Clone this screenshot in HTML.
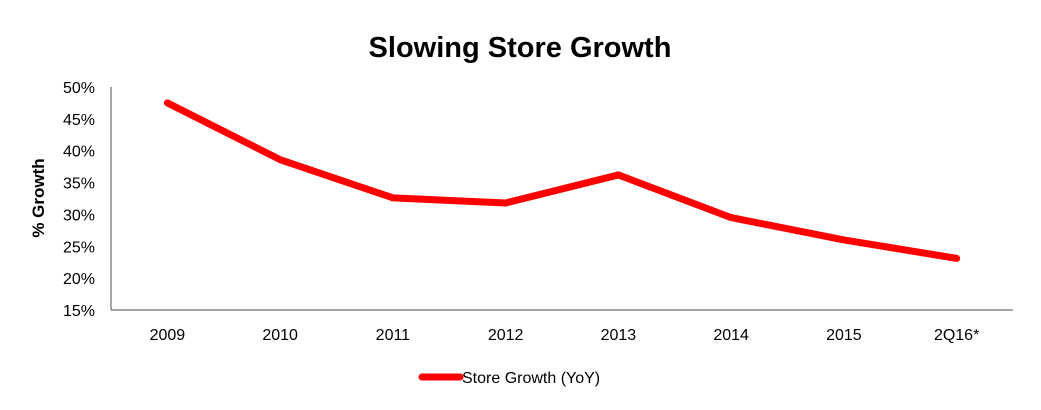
<!DOCTYPE html>
<html><head><meta charset="utf-8"><style>
body{margin:0;background:#fff;}
svg{display:block;font-family:"Liberation Sans",Arial,sans-serif;}
</style></head><body>
<svg id="chart" width="1041" height="410" viewBox="0 0 1041 410">
<text x="520" y="57" text-anchor="middle" font-size="29" font-weight="bold" fill="#000">Slowing Store Growth</text>
<text transform="translate(44,198) rotate(-90)" text-anchor="middle" font-size="17" font-weight="bold" fill="#000">% Growth</text>
<g id="yticks"></g><g id="xticks"></g>
<line x1="111" y1="87" x2="111" y2="310" stroke="#888" stroke-width="1.5"/>
<line x1="111" y1="310" x2="1013" y2="310" stroke="#888" stroke-width="1.5"/>
<path id="series" fill="none" stroke="#ff0000" stroke-width="7" stroke-linecap="round" stroke-linejoin="round"/>
<g>
<line x1="422" y1="377" x2="460" y2="377" stroke="#ff0000" stroke-width="7" stroke-linecap="round"/>
<text x="462" y="383" font-size="16" fill="#000">Store Growth (YoY)</text>
</g>
</svg>
<script>
const categories = ["2009","2010","2011","2012","2013","2014","2015","2Q16*"];
const storeGrowth = [47.5,38.6,32.6,31.8,36.2,29.5,26.0,23.1];
const yTickValues = [15,20,25,30,35,40,45,50];
const yMin=15,yMax=50,plotTop=87,plotBottom=310,plotLeft=111,plotRight=1013;
const yScale=v=>plotBottom-(v-yMin)/(yMax-yMin)*(plotBottom-plotTop);
const bandW=(plotRight-plotLeft)/categories.length;
const xScale=i=>plotLeft+bandW*(i+0.5);
const NS="http://www.w3.org/2000/svg";
const yt=document.getElementById('yticks');
yTickValues.forEach(v=>{const t=document.createElementNS(NS,'text');


t.setAttribute('x',95);t.setAttribute('y',yScale(v)+6);t.setAttribute('text-anchor','end');t.setAttribute('font-size','16');t.textContent=v+'%';yt.appendChild(t);});
const xt=document.getElementById('xticks');
categories.forEach((c,i)=>{const t=document.createElementNS(NS,'text');


t.setAttribute('x',xScale(i));t.setAttribute('y',340);t.setAttribute('text-anchor','middle');t.setAttribute('font-size','16');t.textContent=c;xt.appendChild(t);});
document.getElementById('series').setAttribute('d',storeGrowth.map((v,i)=>(i?'L':'M')+xScale(i)+','+yScale(v)).join(' '));
</script>
</body></html>
